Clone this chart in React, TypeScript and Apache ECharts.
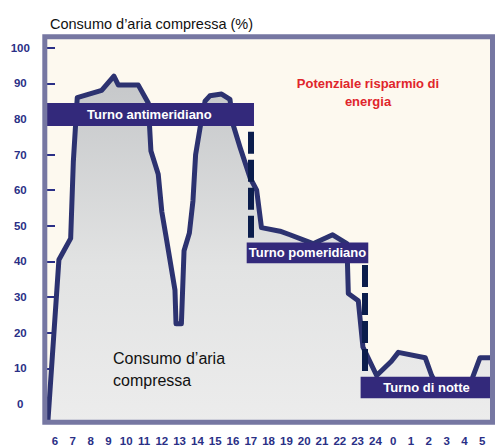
import React, { useEffect, useRef } from "react";
import * as echarts from "echarts";

// x = hours elapsed since 6:00 (tick 0 = "6", tick 18 = "24", tick 19 = "0")
const hourLabels = ["6","7","8","9","10","11","12","13","14","15","16","17","18","19","20","21","22","23","24","0","1","2","3","4","5"];
const hourTicks = hourLabels.map((_, i) => i);
const yTicks = [0, 10, 20, 30, 40, 50, 60, 70, 80, 90, 100];

const curveX = [-0.4, 0.22, 0.88, 1.03, 1.25, 2.62, 3.31, 3.56, 4.68, 5.24, 5.39, 5.8, 6.0, 6.24, 6.74, 6.8, 7.1, 7.25, 7.55, 7.75, 7.9, 8.15, 8.43, 8.7, 9.36, 9.83, 10.0, 10.4, 10.96, 11.33, 11.6, 12.64, 13.2, 14.5, 15.6, 16.4, 16.48, 17.04, 17.3, 18.07, 18.9, 19.29, 20.8, 21.16, 21.5, 23.3, 23.5, 23.88, 24.6];
const curveY = [-5, 40.5, 46.5, 68, 86, 88, 92, 89.5, 89.5, 84.5, 71, 64.5, 54, 47, 32, 22.5, 22.5, 43, 48, 57, 70, 77.5, 85, 86.5, 87, 85.5, 78.5, 72, 63.5, 60, 49.5, 48.5, 47.5, 45, 47.5, 45, 31, 29, 16, 8, 12, 14.5, 13, 8, 5, 5, 8, 13, 13];

const shiftNames = ["Turno antimeridiano", "Turno pomeridiano", "Turno di notte"];
const shiftX0 = [-0.6, 10.77, 17.17];
const shiftX1 = [11.18, 17.6, 24.6];
const shiftYTop = [84.5, 45.3, 7.66];
const shiftYBottom = [78, 39.5, 1.6];

const dashX = [11, 17.42];
const dashYTop = [76.4, 39];
const dashYBottom = [45.2, 8.7];

const titleText = "Consumo d’aria compressa (%)";
const savingText = "Potenziale risparmio di\nenergia";
const areaText = "Consumo d’aria\ncompressa";

const NAVY = "#2a2f86";
const SANS = "'Liberation Sans', Arial, sans-serif";

export default function App() {
  const ref = useRef<HTMLDivElement>(null);
  useEffect(() => {
    if (!ref.current) return;
    const chart = echarts.init(ref.current, null, { renderer: "svg" });
    const gl = 44.8, gt = 36.8, gw = 447.7, gh = 385.5;
    chart.setOption({
      animation: false,
      backgroundColor: "#ffffff",
      title: {
        text: titleText,
        left: 45,
        top: 11,
        textStyle: { fontSize: 14.5, fontWeight: "normal", color: "#111", fontFamily: SANS },
      },
      grid: {
        left: gl, top: gt, width: gw, height: gh,
        show: true, backgroundColor: "#fdf9ef", borderWidth: 0,
        containLabel: false,
        outerBoundsMode: "none",
      },
      xAxis: {
        type: "value",
        min: -0.573,
        max: 24.58,
        offset: 2.5,
        axisLine: { show: false },
        splitLine: { show: false },
        axisTick: { show: true, length: 9.5, customValues: hourTicks, lineStyle: { color: NAVY, width: 2 } },
        axisLabel: {
          customValues: hourTicks,
          margin: 10,
          formatter: (v: number) => hourLabels[Math.round(v)] ?? "",
          color: NAVY, fontWeight: "bold", fontSize: 11.5, fontFamily: SANS,
        },
      },
      yAxis: {
        type: "value",
        min: -5.13,
        max: 103.06,
        offset: 2.5,
        axisLine: { show: false },
        splitLine: { show: false },
        axisTick: { show: true, length: 9.5, customValues: yTicks, lineStyle: { color: NAVY, width: 2 } },
        axisLabel: {
          customValues: yTicks,
          margin: 22,
          align: "center",
          color: NAVY, fontWeight: "bold", fontSize: 11.5, fontFamily: SANS,
        },
      },
      series: [
        {
          type: "line",
          data: curveX.map((x, i) => [x, curveY[i]]),
          symbol: "none",
          clip: true,
          lineStyle: { color: "#2c3270", width: 5, join: "round" },
          areaStyle: {
            origin: "start",
            opacity: 1,
            color: new echarts.graphic.LinearGradient(0, 0, 0, 1, [
              { offset: 0, color: "#c5c7c9" },
              { offset: 0.55, color: "#e2e3e3" },
              { offset: 1, color: "#ececec" },
            ]),
          },
          z: 2,
        },
        {
          type: "line",
          data: [],
          z: 5,
          markArea: {
            z: 10,
            silent: true,
            itemStyle: { color: "#33297b", opacity: 1 },
            label: {
              show: true, position: "inside", color: "#ffffff",
              fontWeight: "bold", fontSize: 13, fontFamily: SANS,
            },
            data: shiftNames.map((n, i) => [
              { name: n, coord: [shiftX0[i], shiftYTop[i]] },
              { coord: [shiftX1[i], shiftYBottom[i]] },
            ]),
          },
          markLine: {
            z: 12,
            silent: true,
            symbol: ["none", "none"],
            label: { show: false },
            lineStyle: { color: "#0b1d4c", width: 6, type: [22, 6], opacity: 1 },
            data: dashX.map((x, i) => [
              { coord: [x, dashYTop[i]] },
              { coord: [x, dashYBottom[i]] },
            ]),
          },
        },
      ],
      graphic: [
        {
          type: "text",
          x: 368, y: 74,
          z: 20,
          style: {
            text: savingText, textAlign: "center", fill: "#e0252b",
            font: `bold 13px ${SANS}`, lineHeight: 18,
          },
        },
        {
          type: "text",
          x: 113, y: 347,
          z: 20,
          style: {
            text: areaText, textAlign: "left", fill: "#111",
            font: `16px ${SANS}`, lineHeight: 22,
          },
        },
        {
          type: "rect",
          z: 100,
          silent: true,
          shape: { x: gl, y: gt, width: gw, height: gh },
          style: { fill: "none", stroke: "#7677a2", lineWidth: 5 },
        },
      ],
    });
    return () => chart.dispose();
  }, []);
  return <div ref={ref} style={{ position: "absolute", left: 0, top: 0, width: 495, height: 447 }} />;
}
